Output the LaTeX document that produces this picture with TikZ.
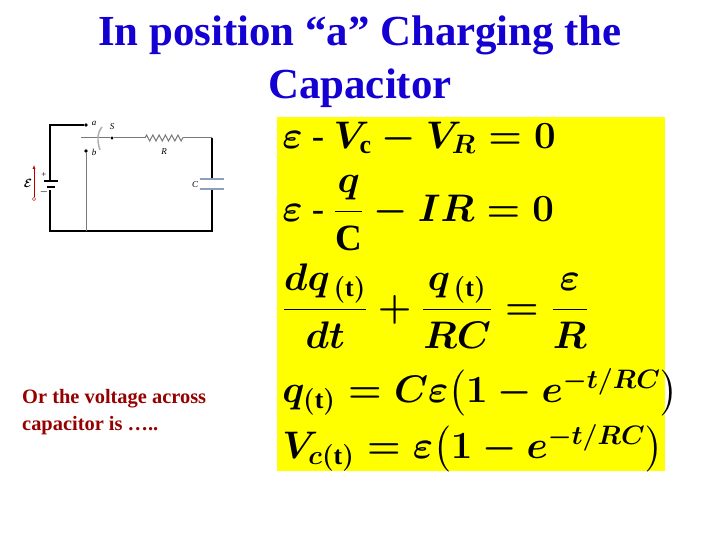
\documentclass[tikz,border=0pt]{standalone}
\usepackage{amsmath}
\usepackage{fontspec}
\setmainfont{Liberation Serif}
\usetikzlibrary{decorations.pathmorphing}
\definecolor{ttl}{RGB}{20,0,210}
\definecolor{redtxt}{RGB}{150,0,0}
\definecolor{ybg}{RGB}{255,255,0}
\definecolor{swg}{RGB}{120,120,120}
\definecolor{capc}{RGB}{140,160,190}
\tikzset{
  wire/.style={line width=1.3pt,black},
  gwire/.style={line width=1pt,swg},
  eqn/.style={anchor=west,inner sep=0pt,font=\fontsize{24}{28}\selectfont,scale=1.55,transform shape},
  dotc/.style={circle,fill=black,inner sep=1.4pt},
}
\begin{document}
\begin{tikzpicture}[x=1bp,y=-1bp]
\useasboundingbox (0,0) rectangle (720,540);
\fill[white] (0,0) rectangle (720,540);
% title
\node[ttl,font=\bfseries\fontsize{43}{53}\selectfont,align=center] (title) at (360,62) {In position “a” Charging the\\Capacitor};
% text
\node[redtxt,font=\bfseries\fontsize{20.5}{27}\selectfont,align=left,anchor=north west,inner sep=0pt] (txt) at (22,389) {Or the voltage across\\capacitor is …..};
% yellow box
\fill[ybg] (277,117) rectangle (665,471);
\boldmath
\node[eqn] (e1) at (282,138) {$\varepsilon \text{ - } V_{\mathrm{c}} - V_{R} = 0$};
\node[eqn] (e2) at (282,213) {$\varepsilon \text{ - } \dfrac{q}{\mathrm{C}} - IR = 0$};
\node[eqn] (e3) at (282,306) {$\dfrac{dq_{\,(\mathrm{t})}}{dt} + \dfrac{q_{\,(\mathrm{t})}}{RC} = \dfrac{\varepsilon}{R}$};
\node[eqn] (e4) at (282,392) {$q_{(\mathrm{t})} = C\varepsilon\bigl(1 - e^{-t/RC}\bigr)$};
\node[eqn] (e5) at (282,448) {$V_{c(\mathrm{t})} = \varepsilon\bigl(1 - e^{-t/RC}\bigr)$};
% circuit
\coordinate (tl) at (50,125);
\coordinate (bl) at (50,231);
\coordinate (br) at (212,231);
\coordinate (tr) at (212,138);
\node[dotc] (a) at (86,125) {};
\node[dotc] (b) at (86,151) {};
\node[dotc,inner sep=1.2pt] (s) at (112,138) {};
\coordinate (sw) at (81,138);
\coordinate (r1) at (145,138);
\coordinate (r2) at (183,138);
\coordinate (bb) at (86,231);
\draw[wire] (a) -- (tl) -- (50,181);
\draw[wire] (50,190) -- (bl) -- (br) -- (212,190);
\draw[wire] (212,179) -- (tr);
\draw[line width=1.2pt] (44,181) -- (58,181);
\draw[line width=2pt] (47,187) -- (55,187);
\draw[gwire] (b) -- (bb);
\draw[gwire] (sw) -- (s) -- (r1);
\draw[gwire,decorate,decoration={zigzag,segment length=6.3pt,amplitude=3pt}] (r1) -- (r2);
\draw[gwire] (r2) -- (tr);
\draw[capc,line width=2.2pt] (200,179) -- (224,179) (200,189) -- (224,189);
\draw[swg!60,line width=1.5pt] (102,127) .. controls (97,133) and (97,141) .. (100,150);
\draw[red!70!black,-latex] (34,197) -- (34,165);
\draw[red!70!black] (34,199) circle (1.7pt);
\node[font=\itshape\fontsize{9}{9}\selectfont,inner sep=0pt] (la) at (94,123) {a};
\node[font=\itshape\fontsize{9}{9}\selectfont,inner sep=0pt] (lb) at (94,152) {b};
\node[font=\itshape\fontsize{9}{9}\selectfont,inner sep=0pt] (ls) at (112,127) {S};
\node[font=\itshape\fontsize{9}{9}\selectfont,inner sep=0pt] (lr) at (164,152) {R};
\node[font=\itshape\fontsize{9}{9}\selectfont,inner sep=0pt] (lc) at (195,185) {C};
\node[font=\fontsize{9}{9}\selectfont,inner sep=0pt] (lp) at (44,175) {+};
\node[font=\fontsize{9}{9}\selectfont,inner sep=0pt] (lm) at (44,192) {$-$};
\node[font=\fontsize{12}{12}\selectfont,inner sep=0pt] (le) at (28,183) {$\mathcal{E}$};
\end{tikzpicture}
\end{document}
